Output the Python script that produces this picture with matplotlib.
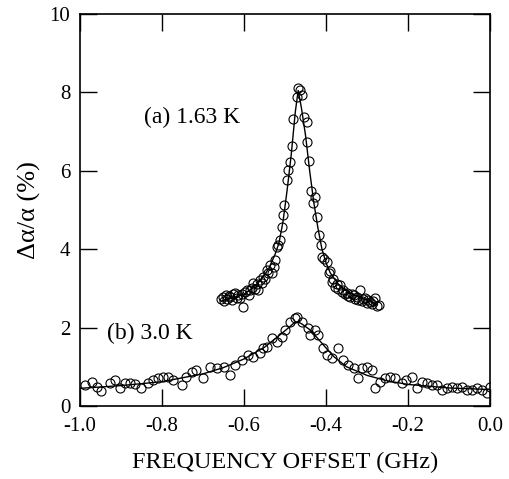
import numpy as np
import matplotlib
matplotlib.use('Agg')
import matplotlib.pyplot as plt

plt.rcParams['font.family'] = ['Liberation Serif', 'DejaVu Serif']

# (a) 1.63 K data points
a_x = [-0.655, -0.652, -0.648, -0.645, -0.641, -0.637, -0.634, -0.630, -0.626, -0.622,
       -0.618, -0.614, -0.610, -0.606, -0.602, -0.598, -0.593, -0.589, -0.585, -0.581,
       -0.577, -0.573, -0.569, -0.565, -0.561, -0.557, -0.553, -0.549, -0.545, -0.541,
       -0.537, -0.532, -0.528, -0.524, -0.520, -0.516, -0.512, -0.508, -0.506, -0.503,
       -0.496, -0.493, -0.488, -0.484, -0.480, -0.472, -0.468, -0.464, -0.459, -0.455,
       -0.447, -0.446, -0.441, -0.437, -0.431, -0.427, -0.423, -0.417, -0.413, -0.411,
       -0.405, -0.398, -0.394, -0.390, -0.386, -0.382, -0.378, -0.374, -0.370, -0.366,
       -0.362, -0.358, -0.354, -0.350, -0.346, -0.342, -0.337, -0.333, -0.329, -0.325,
       -0.321, -0.317, -0.313, -0.309, -0.305, -0.301, -0.297, -0.293, -0.289, -0.285,
       -0.280, -0.276, -0.272]
a_y = [2.72, 2.78, 2.68, 2.83, 2.74, 2.80, 2.79, 2.70, 2.85, 2.88,
       2.76, 2.82, 2.75, 2.86, 2.53, 2.90, 2.96, 2.84, 2.96, 3.02,
       3.13, 2.98, 3.10, 2.96, 3.21, 3.15, 3.30, 3.25, 3.47, 3.38,
       3.60, 3.39, 3.55, 3.72, 4.06, 4.11, 4.23, 4.57, 4.87, 5.13,
       5.77, 6.02, 6.23, 6.64, 7.32, 7.89, 8.12, 8.05, 7.93, 7.38,
       7.25, 6.73, 6.25, 5.49, 5.17, 5.34, 4.83, 4.36, 4.11, 3.81,
       3.75, 3.68, 3.39, 3.45, 3.17, 3.25, 3.04, 3.12, 2.98, 3.09,
       2.90, 2.96, 2.85, 2.88, 2.80, 2.79, 2.85, 2.83, 2.72, 2.78,
       2.70, 2.96, 2.68, 2.74, 2.75, 2.62, 2.70, 2.66, 2.60, 2.68,
       2.75, 2.55, 2.58]

# (a) fitted curve
a_fit_x = [-0.655, -0.63, -0.60, -0.58, -0.56, -0.54, -0.525, -0.515, -0.505, -0.495,
           -0.485, -0.475, -0.468, -0.46, -0.45, -0.44, -0.43, -0.42, -0.41, -0.40,
           -0.39, -0.37, -0.35, -0.32, -0.29, -0.275]
a_fit_y = [2.68, 2.75, 2.85, 3.0, 3.2, 3.5, 3.85, 4.15, 4.7, 5.5,
           6.4, 7.5, 8.05, 7.6, 6.9, 6.0, 5.2, 4.55, 4.0, 3.65,
           3.4, 3.1, 2.93, 2.78, 2.65, 2.58]

# (b) 3.0 K data points
b_x = [-0.988, -0.971, -0.959, -0.948, -0.927, -0.915, -0.902, -0.890, -0.878, -0.866,
       -0.850, -0.834, -0.821, -0.809, -0.797, -0.785, -0.772, -0.752, -0.741, -0.728,
       -0.716, -0.700, -0.683, -0.667, -0.650, -0.634, -0.622, -0.606, -0.590, -0.577,
       -0.561, -0.553, -0.545, -0.532, -0.520, -0.508, -0.500, -0.488, -0.476, -0.472,
       -0.459, -0.443, -0.439, -0.427, -0.419, -0.407, -0.398, -0.386, -0.370, -0.358,
       -0.346, -0.333, -0.321, -0.313, -0.301, -0.289, -0.280, -0.269, -0.257, -0.244,
       -0.232, -0.216, -0.204, -0.191, -0.179, -0.167, -0.154, -0.142, -0.130, -0.118,
       -0.106, -0.094, -0.081, -0.069, -0.057, -0.045, -0.033, -0.021, -0.008, 0.000]
b_y = [0.54, 0.62, 0.49, 0.37, 0.58, 0.66, 0.45, 0.58, 0.58, 0.56,
       0.45, 0.58, 0.66, 0.71, 0.75, 0.75, 0.66, 0.54, 0.75, 0.88,
       0.92, 0.71, 1.00, 0.96, 1.00, 0.79, 1.05, 1.17, 1.30, 1.26,
       1.34, 1.47, 1.51, 1.73, 1.64, 1.77, 1.94, 2.15, 2.24, 2.28,
       2.15, 1.98, 1.81, 1.94, 1.81, 1.47, 1.30, 1.22, 1.47, 1.17,
       1.05, 0.96, 0.71, 0.96, 1.00, 0.92, 0.45, 0.62, 0.71, 0.75,
       0.71, 0.58, 0.66, 0.75, 0.45, 0.62, 0.58, 0.54, 0.54, 0.41,
       0.45, 0.49, 0.45, 0.49, 0.41, 0.41, 0.45, 0.41, 0.32, 0.49]

# (b) fitted curve
b_fit_x = [-1.0, -0.9, -0.8, -0.7, -0.65, -0.6, -0.55, -0.52, -0.5, -0.48,
           -0.47, -0.46, -0.44, -0.42, -0.4, -0.38, -0.35, -0.3, -0.25, -0.2,
           -0.1, 0.0]
b_fit_y = [0.45, 0.52, 0.62, 0.82, 0.98, 1.2, 1.5, 1.75, 1.92, 2.1,
           2.15, 2.1, 1.95, 1.72, 1.48, 1.25, 1.0, 0.78, 0.64, 0.55,
           0.46, 0.42]


def main():
	fig = plt.figure(figsize=(5.09, 4.79), dpi=100)
	ax = fig.add_axes([0.157, 0.1524, 0.806, 0.8184])

	ax.plot(a_fit_x, a_fit_y, color='black', lw=1.0)
	ax.plot(b_fit_x, b_fit_y, color='black', lw=1.0)
	ax.plot(a_x, a_y, 'o', mfc='none', mec='black', ms=6.5, mew=0.8)
	ax.plot(b_x, b_y, 'o', mfc='none', mec='black', ms=6.5, mew=0.8)

	ax.text(-0.845, 7.37, '(a) 1.63 K', fontsize=17, va='center', ha='left')
	ax.text(-0.933, 1.86, '(b) 3.0 K', fontsize=17, va='center', ha='left')

	ax.set_xlim(-1.0, 0.0)
	ax.set_ylim(0, 10)
	ax.set_xticks([-1.0, -0.8, -0.6, -0.4, -0.2, 0.0])
	ax.set_xticklabels(['-1.0', '-0.8', '-0.6', '-0.4', '-0.2', '0.0'])
	ax.set_yticks([0, 2, 4, 6, 8, 10])
	ax.tick_params(direction='in', length=12, width=1.0, top=True, right=True,
	               labelsize=15)
	ax.tick_params(axis='x', pad=8)
	ax.tick_params(axis='y', pad=7)
	for s in ax.spines.values():
		s.set_linewidth(1.2)

	ax.set_xlabel('FREQUENCY OFFSET (GHz)', fontsize=17.5, labelpad=11)
	ax.set_ylabel('\u0394\u03b1/\u03b1 (%)', fontsize=19, labelpad=6)

	fig.savefig('out.png', dpi=100)


if __name__ == '__main__':
	main()
